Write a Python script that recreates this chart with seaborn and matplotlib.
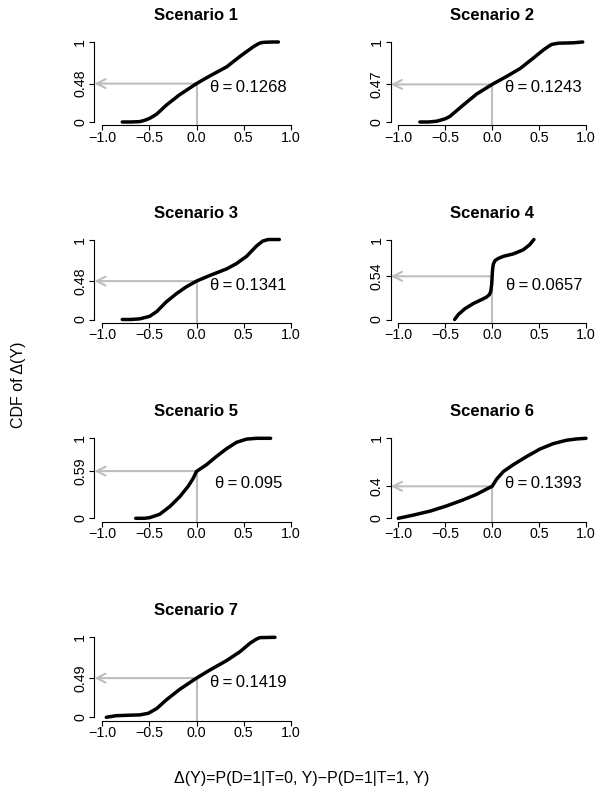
import matplotlib
matplotlib.use("Agg")
import matplotlib.pyplot as plt
import seaborn as sns
import pandas as pd

sns.set_style("ticks")
plt.rcParams['font.family'] = ['Liberation Sans', 'DejaVu Sans']
plt.rcParams['axes.unicode_minus'] = True
plt.rcParams['text.color'] = 'black'
plt.rcParams['xtick.color'] = 'black'
plt.rcParams['ytick.color'] = 'black'
plt.rcParams['axes.labelcolor'] = 'black'

# ---- data ----
titles = ["Scenario 1", "Scenario 2", "Scenario 3", "Scenario 4",
          "Scenario 5", "Scenario 6", "Scenario 7"]
cdf_at_zero = [0.48, 0.47, 0.48, 0.54, 0.59, 0.4, 0.49]
cdf_labels = ["0.48", "0.47", "0.48", "0.54", "0.59", "0.4", "0.49"]
theta_labels = ["0.1268", "0.1243", "0.1341", "0.0657", "0.095", "0.1393", "0.1419"]

s1_x = [-0.785, -0.70, -0.60, -0.55, -0.495, -0.46, -0.42, -0.32, -0.18, 0.0, 0.14, 0.32, 0.46, 0.565, 0.60, 0.65, 0.68, 0.71, 0.80, 0.866]
s1_y = [0.0, 0.0, 0.005, 0.02, 0.046, 0.07, 0.10, 0.21, 0.34, 0.48, 0.575, 0.69, 0.82, 0.91, 0.94, 0.975, 0.99, 0.996, 1.0, 1.0]

s2_x = [-0.77, -0.68, -0.59, -0.50, -0.45, -0.41, -0.31, -0.165, 0.0, 0.155, 0.30, 0.44, 0.545, 0.60, 0.635, 0.705, 0.865, 0.965]
s2_y = [0.0, 0.0, 0.01, 0.04, 0.07, 0.11, 0.21, 0.35, 0.47, 0.57, 0.67, 0.80, 0.90, 0.945, 0.97, 0.985, 0.99, 1.0]

s3_x = [-0.785, -0.70, -0.60, -0.495, -0.42, -0.32, -0.21, -0.106, 0.0, 0.14, 0.32, 0.424, 0.53, 0.636, 0.70, 0.76, 0.876]
s3_y = [0.0, 0.0, 0.008, 0.04, 0.10, 0.22, 0.325, 0.41, 0.48, 0.55, 0.633, 0.70, 0.79, 0.92, 0.98, 1.0, 1.0]

s4_x = [-0.40, -0.36, -0.29, -0.20, -0.11, -0.06, -0.03, -0.015, -0.005, 0.0, 0.005, 0.012, 0.03, 0.06, 0.12, 0.225, 0.33, 0.40, 0.445]
s4_y = [0.0, 0.063, 0.135, 0.20, 0.25, 0.28, 0.31, 0.35, 0.44, 0.54, 0.63, 0.69, 0.735, 0.76, 0.79, 0.82, 0.87, 0.935, 1.0]

s5_x = [-0.643, -0.55, -0.495, -0.39, -0.283, -0.177, -0.088, -0.035, 0.0, 0.106, 0.212, 0.318, 0.424, 0.53, 0.636, 0.784]
s5_y = [0.0, 0.0, 0.008, 0.05, 0.146, 0.27, 0.40, 0.50, 0.586, 0.67, 0.774, 0.87, 0.95, 0.99, 1.0, 1.0]

s6_x = [-1.0, -0.84, -0.66, -0.485, -0.31, -0.165, -0.06, 0.0, 0.048, 0.12, 0.225, 0.37, 0.51, 0.65, 0.79, 0.90, 1.0]
s6_y = [0.0, 0.04, 0.09, 0.155, 0.23, 0.30, 0.365, 0.40, 0.49, 0.585, 0.67, 0.774, 0.866, 0.933, 0.975, 0.992, 1.0]

s7_x = [-0.954, -0.85, -0.74, -0.60, -0.51, -0.42, -0.32, -0.177, 0.0, 0.14, 0.32, 0.46, 0.565, 0.63, 0.67, 0.83]
s7_y = [0.0, 0.02, 0.025, 0.03, 0.05, 0.11, 0.217, 0.35, 0.49, 0.59, 0.71, 0.82, 0.925, 0.975, 0.996, 1.0]

curves_x = [s1_x, s2_x, s3_x, s4_x, s5_x, s6_x, s7_x]
curves_y = [s1_y, s2_y, s3_y, s4_y, s5_y, s6_y, s7_y]

x_ticks = [-1.0, -0.5, 0.0, 0.5, 1.0]
x_tick_labels = ["\u22121.0", "\u22120.5", "0.0", "0.5", "1.0"]

# ---- layout ----
W, H = 603, 798
fig = plt.figure(figsize=(W / 100, H / 100), dpi=100)

col_left = [94.4, 390.8]
col_width = [204.2, 202.7]
row_bottom_px = [125.2, 322.7, 521.5, 720.5]
ax_h = 86.4

GRAY = "#BEBEBE"

for i in range(7):
    r, c = divmod(i, 2)
    left = col_left[c] / W
    bottom = 1 - row_bottom_px[r] / H
    ax = fig.add_axes([left, bottom, col_width[c] / W, ax_h / H])
    ax.set_xlim(-1.08, 1.08)
    ax.set_ylim(-0.04, 1.04)

    p = cdf_at_zero[i]
    # gray guides
    ax.plot([0, 0], [p, -0.04], color=GRAY, lw=1.5, solid_capstyle='butt', zorder=1, clip_on=False)
    ax.annotate("", xy=(-1.08, p), xytext=(0, p),
                arrowprops=dict(arrowstyle='->', color=GRAY, lw=1.5,
                                mutation_scale=16, shrinkA=0, shrinkB=0),
                annotation_clip=False, zorder=1)

    df = pd.DataFrame({"x": curves_x[i], "y": curves_y[i]})
    sns.lineplot(data=df, x="x", y="y", ax=ax, color="black", lw=2.5,
                 sort=False, estimator=None, zorder=3)

    ax.text(0.55, 0.43, "\u03b8\u2009=\u2009" + theta_labels[i], ha='center', va='center',
            fontsize=12, color='black')

    ax.set_title(titles[i], fontsize=12, fontweight='bold', pad=13.5, color='black')
    ax.set_xlabel("")
    ax.set_ylabel("")

    ax.set_xticks(x_ticks)
    ax.set_xticklabels(x_tick_labels, fontsize=10.3)
    ax.set_yticks([0, p, 1])
    ax.set_yticklabels(["0", cdf_labels[i], "1"], fontsize=10.3, rotation=90, va='center')

    for s in ['top', 'right']:
        ax.spines[s].set_visible(False)
    ax.spines['left'].set_bounds(0, 1)
    ax.spines['bottom'].set_bounds(-1, 1)
    for s in ['left', 'bottom']:
        ax.spines[s].set_linewidth(0.8)
        ax.spines[s].set_color('black')
    ax.tick_params(axis='both', direction='out', length=3.6, width=0.8, color='black',
                   labelcolor='black')
    ax.tick_params(axis='x', pad=0.5)
    ax.tick_params(axis='y', pad=1.5)
    ax.set_facecolor('white')

fig.text(19 / W, 1 - 385 / H, "CDF of \u0394(Y)", rotation=90, ha='center', va='center',
         fontsize=11.5, color='black')
fig.text(302 / W, 1 - 779 / H, "\u0394(Y)=P(D=1|T=0, Y)\u2212P(D=1|T=1, Y)", ha='center',
         va='center', fontsize=11.5, color='black')

fig.savefig("out.png", dpi=100, facecolor='white')
